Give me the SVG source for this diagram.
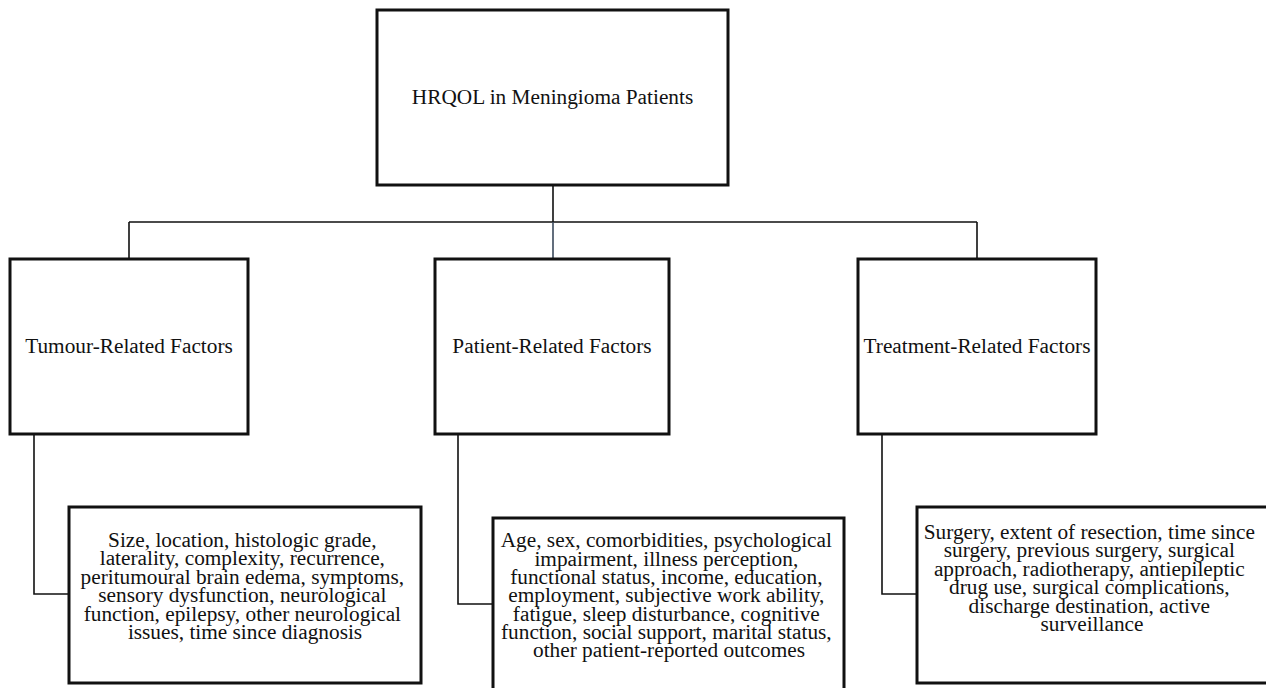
<svg xmlns="http://www.w3.org/2000/svg" width="1266" height="688" viewBox="0 0 1266 688" font-family="'Liberation Serif', 'Times New Roman', serif">
<style>
.box{fill:#fff;stroke:#111;stroke-width:3}
.t{font-size:21.3px;fill:#111;text-anchor:middle}
.c{fill:none;stroke:#111;stroke-width:1.6}
</style>
<rect width="1266" height="688" fill="#fff"/>
<g id="connectors">
<path class="c" d="M553 185V222M129 222H977M129 222V259M977 222V259"/>
<path d="M553 222V259" fill="none" stroke="#3b4a5c" stroke-width="1.6"/>
<path class="c" d="M34 434V594H69M458 434V604H493M882 434V594H917" stroke-width="2"/>
</g>
<g id="root">
<rect class="box" x="377" y="10" width="351" height="175"/>
<text class="t" x="552.5" y="104">HRQOL in Meningioma Patients</text>
</g>
<g id="tumour">
<rect class="box" x="10" y="259" width="238" height="175"/>
<text class="t" x="129" y="353">Tumour-Related Factors</text>
</g>
<g id="patient">
<rect class="box" x="435" y="259" width="234" height="175"/>
<text class="t" x="552" y="353">Patient-Related Factors</text>
</g>
<g id="treatment">
<rect class="box" x="858" y="259" width="238" height="175"/>
<text class="t" x="977" y="353">Treatment-Related Factors</text>
</g>
<g id="tumour-details">
<rect class="box" x="69" y="507" width="352" height="176"/>
<text class="t">
<tspan x="245" y="547">Size, location, histologic grade,</tspan>
<tspan x="245" y="565.4">laterality, complexity, recurrence,</tspan>
<tspan x="245" y="583.8">peritumoural brain edema, symptoms,</tspan>
<tspan x="245" y="602.2">sensory dysfunction, neurological</tspan>
<tspan x="245" y="620.6">function, epilepsy, other neurological</tspan>
<tspan x="245" y="639">issues, time since diagnosis</tspan>
</text>
</g>
<g id="patient-details">
<rect class="box" x="493" y="518" width="351" height="190"/>
<text class="t">
<tspan x="669" y="547.3">Age, sex, comorbidities, psychological</tspan>
<tspan x="669" y="565.7">impairment, illness perception,</tspan>
<tspan x="669" y="584">functional status, income, education,</tspan>
<tspan x="669" y="602.3">employment, subjective work ability,</tspan>
<tspan x="669" y="620.7">fatigue, sleep disturbance, cognitive</tspan>
<tspan x="669" y="639">function, social support, marital status,</tspan>
<tspan x="669" y="657.3">other patient-reported outcomes</tspan>
</text>
</g>
<g id="treatment-details">
<rect class="box" x="917" y="507" width="370" height="176"/>
<text class="t">
<tspan x="1092" y="539">Surgery, extent of resection, time since</tspan>
<tspan x="1092" y="557.4">surgery, previous surgery, surgical</tspan>
<tspan x="1092" y="575.8">approach, radiotherapy, antiepileptic</tspan>
<tspan x="1092" y="594.2">drug use, surgical complications,</tspan>
<tspan x="1092" y="612.6">discharge destination, active</tspan>
<tspan x="1092" y="631">surveillance</tspan>
</text>
</g>
</svg>
